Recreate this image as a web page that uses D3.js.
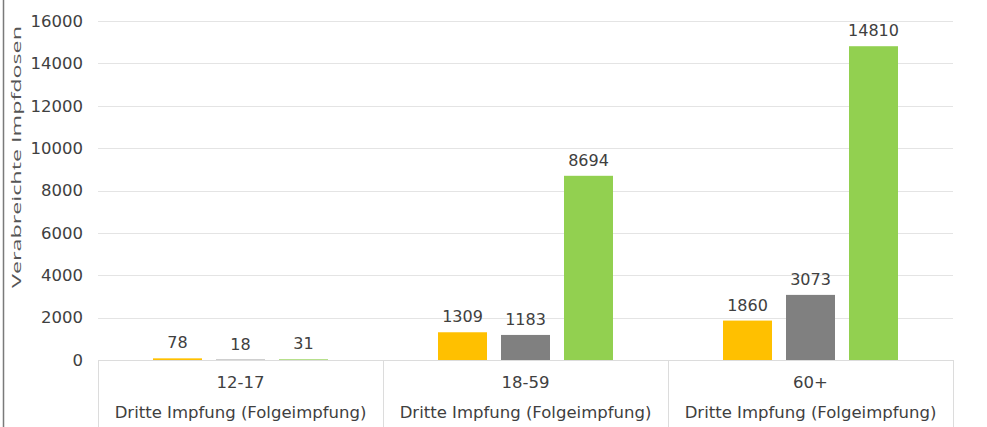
<!DOCTYPE html>
<html>
<head>
<meta charset="utf-8">
<script src="https://cdn.jsdelivr.net/npm/d3@7"></script>
<style>
  body { margin: 0; background: #fff; }
  text { font-family: "DejaVu Sans", Verdana, sans-serif; }
</style>
</head>
<body>
<div id="chart"></div>
<script>
// data
var groups = ["12-17", "18-59", "60+"];
var subLabel = "Dritte Impfung (Folgeimpfung)";
var colors = ["#FFC000", "#808080", "#92D050"];
var values = [
  [78, 18, 31],
  [1309, 1183, 8694],
  [1860, 3073, 14810]
];
var yTicks = [0, 2000, 4000, 6000, 8000, 10000, 12000, 14000, 16000];
var yTitle = "Verabreichte Impfdosen";

var svgWidth = 987;
var svgHeight = 427;

var margin = { top: 21, right: 34, bottom: 67, left: 98 };
var chartWidth = svgWidth - margin.left - margin.right;
var chartHeight = svgHeight - margin.top - margin.bottom;

var svg = d3.select("#chart")
  .append("svg")
  .attr("width", svgWidth)
  .attr("height", svgHeight);

// left frame line
svg.append("line")
  .attr("x1", 3.5).attr("x2", 3.5)
  .attr("y1", 0).attr("y2", svgHeight)
  .attr("stroke", "#7a7a7a")
  .attr("stroke-width", 1.5);

var chart = svg.append("g").attr("transform", `translate(${margin.left},${margin.top})`);

var xScale = d3.scaleBand().domain(groups).range([0, chartWidth]);
var yScale = d3.scaleLinear().domain([0, 16000]).range([chartHeight, 0]);

// gridlines
chart.selectAll(".grid")
  .data(yTicks.slice(1))
  .enter()
  .append("line")
  .attr("x1", 0).attr("x2", chartWidth)
  .attr("y1", d => Math.round(yScale(d)) + 0.5)
  .attr("y2", d => Math.round(yScale(d)) + 0.5)
  .attr("stroke", "#e4e4e4");

// y axis (labels only)
var leftAxis = d3.axisLeft(yScale).tickValues(yTicks).tickSize(0).tickPadding(15).tickFormat(d3.format("d"));
var yAxis = chart.append("g").call(leftAxis);
yAxis.select(".domain").remove();
yAxis.selectAll("text")
  .style("font-size", "16.5px")
  .attr("fill", "#404040")
  .style("font-family", "'DejaVu Sans', Verdana, sans-serif");

svg.append("text")
  .attr("transform", "rotate(-90)")
  .attr("x", -157)
  .attr("y", 21)
  .style("text-anchor", "middle")
  .style("font-size", "13.5px")
  .style("font-family", "'Open Sans', sans-serif")
  .attr("textLength", 262)
  .attr("lengthAdjust", "spacingAndGlyphs")
  .attr("fill", "#555")
  .text(yTitle);

// bars
var barW = 49;
var step = 63;
var groupG = chart.selectAll(".group")
  .data(values)
  .enter()
  .append("g")
  .attr("transform", (d, i) => `translate(${xScale(groups[i]) + xScale.bandwidth() / 2},0)`);

groupG.selectAll("rect")
  .data(d => d)
  .enter()
  .append("rect")
  .attr("x", (d, j) => (j - 1) * step - barW / 2)
  .attr("y", d => yScale(d))
  .attr("width", barW)
  .attr("height", d => chartHeight - yScale(d))
  .attr("fill", (d, j) => colors[j]);

groupG.selectAll(".val")
  .data(d => d)
  .enter()
  .append("text")
  .attr("x", (d, j) => (j - 1) * step)
  .attr("y", d => yScale(d) - 10)
  .style("text-anchor", "middle")
  .style("font-size", "16px")
  .attr("fill", "#404040")
  .text(d => d);

// category box
var boxG = chart.append("g").attr("transform", `translate(0,${chartHeight})`);
boxG.append("line")
  .attr("x1", 0).attr("x2", chartWidth)
  .attr("y1", 0.5).attr("y2", 0.5)
  .attr("stroke", "#dcdcdc");
boxG.selectAll(".sep")
  .data(groups.concat(["end"]))
  .enter()
  .append("line")
  .attr("x1", (d, i) => Math.round(i * xScale.bandwidth()) + 0.5)
  .attr("x2", (d, i) => Math.round(i * xScale.bandwidth()) + 0.5)
  .attr("y1", 0)
  .attr("y2", margin.bottom)
  .attr("stroke", "#dcdcdc");

boxG.selectAll(".cat")
  .data(groups)
  .enter()
  .append("text")
  .attr("x", d => xScale(d) + xScale.bandwidth() / 2)
  .attr("y", 28)
  .style("text-anchor", "middle")
  .style("font-size", "16.5px")
  .attr("fill", "#404040")
  .text(d => d);

boxG.selectAll(".sub")
  .data(groups)
  .enter()
  .append("text")
  .attr("x", d => xScale(d) + xScale.bandwidth() / 2)
  .attr("y", 58)
  .style("text-anchor", "middle")
  .style("font-size", "16.5px")
  .attr("fill", "#404040")
  .text(subLabel);
</script>
</body>
</html>
